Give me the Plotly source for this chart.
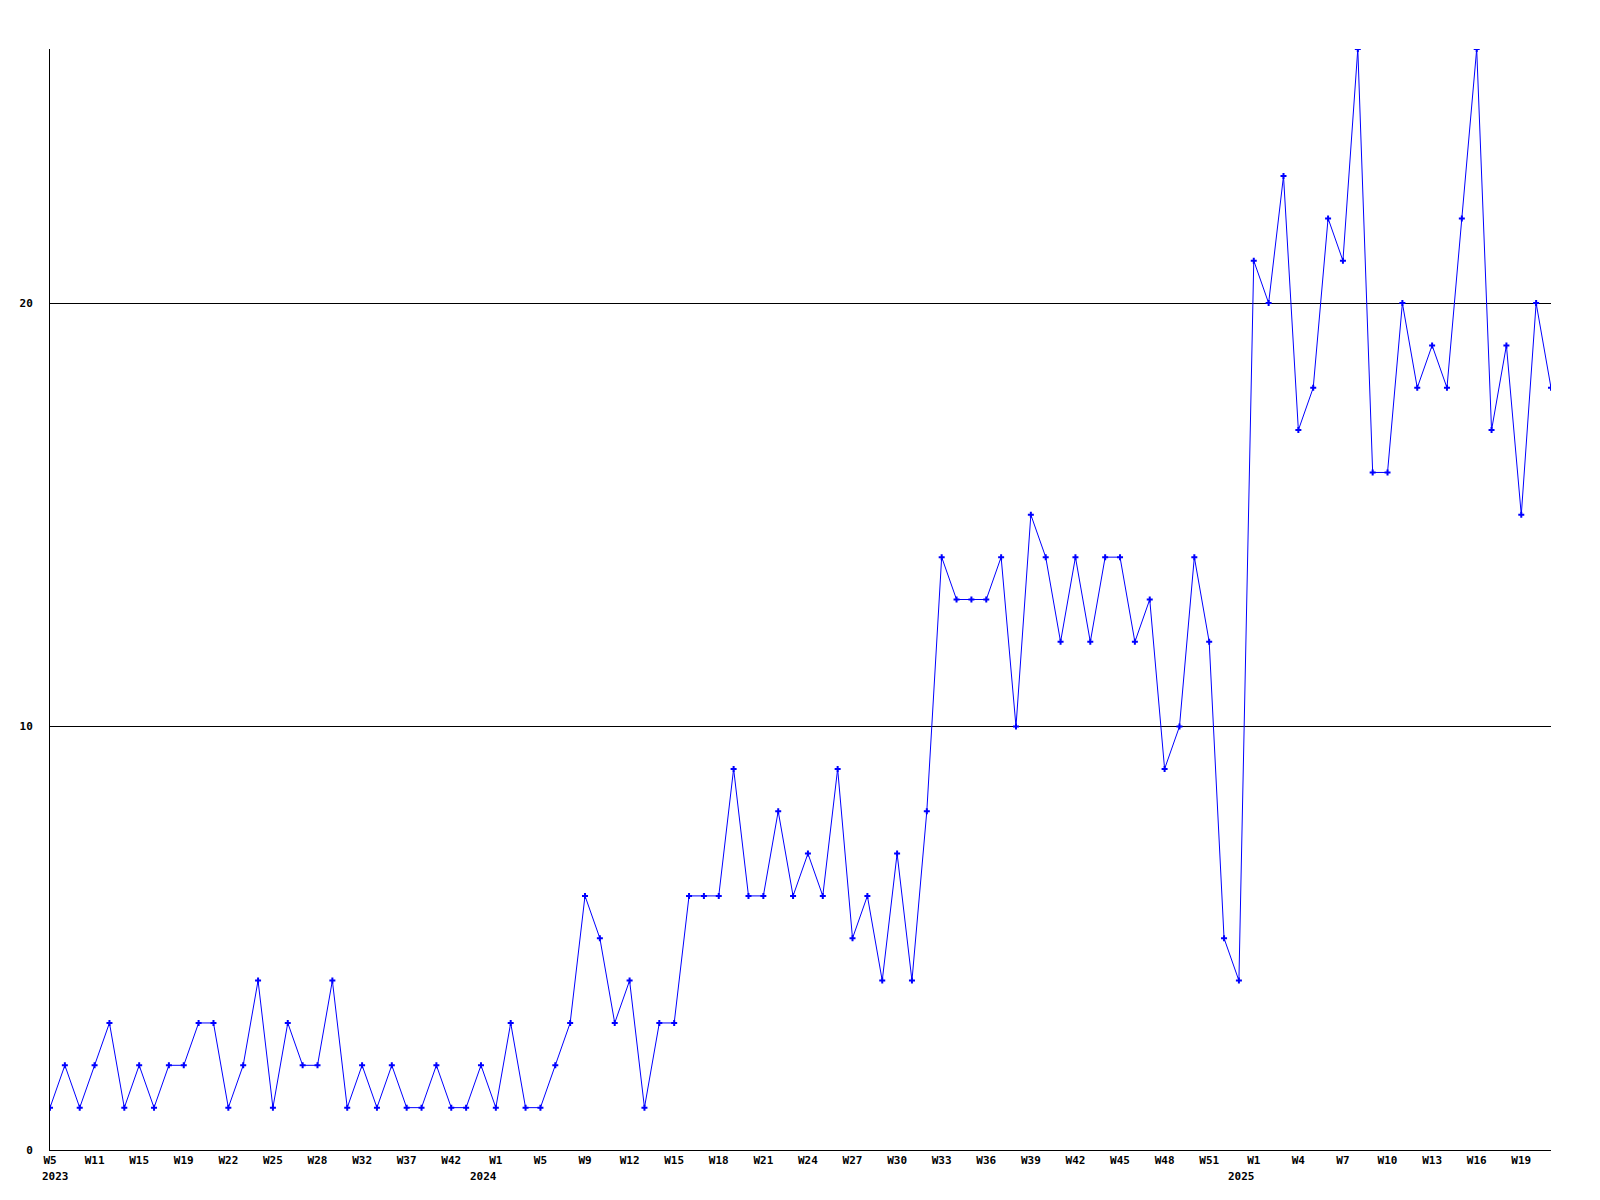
import plotly.graph_objects as go

values = [1, 2, 1, 2, 3, 1, 2, 1, 2, 2, 3, 3, 1, 2, 4, 1, 3, 2, 2, 4,
          1, 2, 1, 2, 1, 1, 2, 1, 1, 2, 1, 3, 1, 1, 2, 3, 6, 5, 3, 4,
          1, 3, 3, 6, 6, 6, 9, 6, 6, 8, 6, 7, 6, 9, 5, 6, 4, 7, 4, 8,
          14, 13, 13, 13, 14, 10, 15, 14, 12, 14, 12, 14, 14, 12, 13, 9, 10, 14, 12, 5,
          4, 21, 20, 23, 17, 18, 22, 21, 26, 16, 16, 20, 18, 19, 18, 22, 26, 17, 19, 15,
          20, 18]

week_labels = ["W5", "W11", "W15", "W19", "W22", "W25", "W28", "W32", "W37", "W42",
               "W1", "W5", "W9", "W12", "W15", "W18", "W21", "W24", "W27", "W30",
               "W33", "W36", "W39", "W42", "W45", "W48", "W51",
               "W1", "W4", "W7", "W10", "W13", "W16", "W19"]
year_labels = ["2023", "2024", "2025"]
year_label_ticks = [0, 10, 27]
label_step = 3

x = list(range(len(values)))
tickvals = [i * label_step for i in range(len(week_labels))]

font = dict(family="DejaVu Sans Mono", size=11, color="black", weight="bold")

fig = go.Figure(go.Scatter(
    x=x, y=values, mode="lines+markers",
    line=dict(color="#0000ff", width=1),
    marker=dict(symbol="cross", size=5, color="#0000ff", line=dict(width=0)),
    hoverinfo="skip",
))

for k, (lbl, t) in enumerate(zip(year_labels, year_label_ticks)):
    first = k == 0
    fig.add_annotation(
        x=t * label_step, y=0, xref="x", yref="paper",
        text=lbl, showarrow=False, font=font,
        xanchor="left" if first else "right", yanchor="top",
        xshift=-10 if first else 3, yshift=-18,
    )

fig.update_layout(
    width=1592, height=1192,
    margin=dict(l=42, r=49, t=41, b=50),
    paper_bgcolor="white", plot_bgcolor="white",
    showlegend=False,
    font=font,
)
fig.update_xaxes(
    range=[0, len(values) - 1], tickmode="array", tickvals=tickvals, ticktext=week_labels,
    showgrid=False, zeroline=False, showline=True, linecolor="black", linewidth=1,
    ticks="", tickangle=0, tickfont=font,
)
fig.update_yaxes(
    range=[0, 26], tickmode="array", tickvals=[0, 10, 20], ticktext=["0", "10", "20"],
    showgrid=True, gridcolor="black", gridwidth=1, zeroline=False,
    showline=True, linecolor="black", linewidth=1, ticks="", ticklabelstandoff=14,
    tickfont=font,
)

fig.write_html("out.html")
